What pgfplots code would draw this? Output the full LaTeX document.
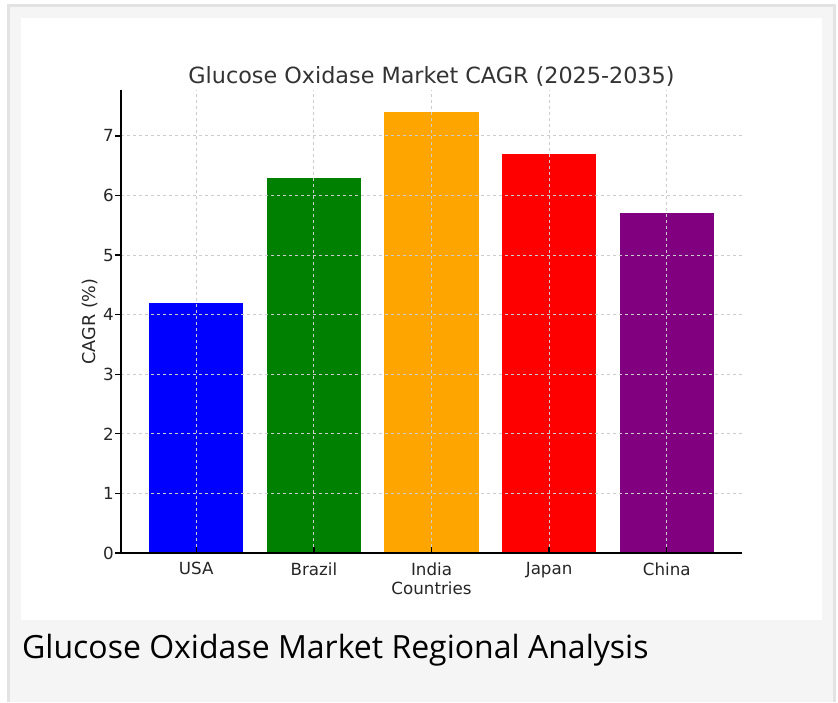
\documentclass[border=0pt]{standalone}
\usepackage{fontspec}
\setmainfont{DejaVu Sans}
\newfontfamily\capfont{Open Sans}
\usepackage{pgfplots}
\pgfplotsset{compat=1.18}
\definecolor{txt}{HTML}{262626}
\definecolor{ttl}{HTML}{333333}
\definecolor{gridc}{HTML}{CCCCCC}
\begin{document}
\begin{tikzpicture}[x=1pt,y=1pt]
\useasboundingbox (0,0) rectangle (838,702);
\fill[white] (0,0) rectangle (838,702);
\fill[black!11] (7,0) rectangle (836,698);
\fill[black!4] (10,0) rectangle (833,695);
\fill[white] (20.5,82) rectangle (822,683.5);
\node[anchor=base west, inner sep=0pt, font=\capfont\fontsize{32}{38}\selectfont, text=black] at (22,44) {Glucose Oxidase Market Regional Analysis};
\begin{axis}[
  at={(121pt,149pt)}, anchor=south west,
  scale only axis, width=621pt, height=463pt,
  xmin=-0.64, xmax=4.64, ymin=0, ymax=7.77,
  axis x line*=bottom, axis y line*=left,
  axis line style={black, line width=1.3pt, -},
  xtick={0,1,2,3,4},
  xticklabels={USA,Brazil,India,Japan,China},
  ytick={0,1,2,3,4,5,6,7},
  xtick align=inside, ytick align=outside, major tick length=5.8pt,
  tick style={black, line width=1.3pt},
  ticklabel style={font=\fontsize{16.7}{20}\selectfont, text=txt},
  xticklabel style={yshift=-5.8pt},
  yticklabel style={xshift=2pt},
  /pgf/number format/assume math mode=true,
  grid=major,
  major grid style={gridc, dashed, line width=1pt},
  axis on top,
  title={Glucose Oxidase Market CAGR (2025-2035)},
  title style={font=\fontsize{22.3}{26}\selectfont, text=ttl, at={(axis description cs:0.5,1)}, anchor=base, yshift=0pt},
  xlabel={Countries}, ylabel={CAGR (\%)},
  label style={font=\fontsize{16.7}{20}\selectfont, text=txt},
  xlabel style={at={(axis description cs:0.5,-0.0756)}, anchor=center},
  ylabel style={font=\fontsize{17.6}{20}\selectfont, at={(axis description cs:-0.05,0.5)}, anchor=center, rotate=0},
]
\addplot[ybar, bar width=0.8, bar shift=0pt, fill=blue, draw=none] coordinates {(0,4.2)};
\addplot[ybar, bar width=0.8, bar shift=0pt, fill={rgb,255:red,0;green,128;blue,0}, draw=none] coordinates {(1,6.3)};
\addplot[ybar, bar width=0.8, bar shift=0pt, fill={rgb,255:red,255;green,165;blue,0}, draw=none] coordinates {(2,7.4)};
\addplot[ybar, bar width=0.8, bar shift=0pt, fill=red, draw=none] coordinates {(3,6.7)};
\addplot[ybar, bar width=0.8, bar shift=0pt, fill={rgb,255:red,128;green,0;blue,128}, draw=none] coordinates {(4,5.7)};
\end{axis}
\end{tikzpicture}
\end{document}
